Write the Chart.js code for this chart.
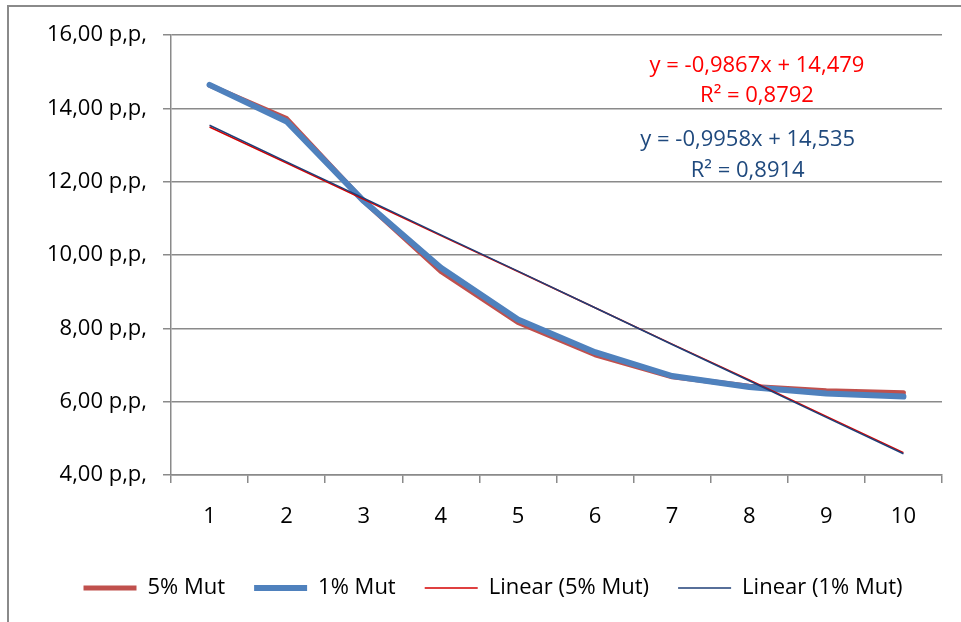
<!DOCTYPE html>
<html lang="en">
  <head>
    <title>Mutation chart</title>
    <meta charset="utf-8" />
    <script src="https://cdn.jsdelivr.net/npm/chart.js@4.4.1/dist/chart.umd.min.js"></script>
    <style>
      html, body { margin: 0; padding: 0; background: #fff; }
      #wrap { width: 961px; height: 622px; position: relative; }
    </style>
  </head>
  <body>
    <div id="wrap"><canvas id="myChart" width="961" height="622"></canvas></div>

    <script>
      // chart data
      var categories = ["1", "2", "3", "4", "5", "6", "7", "8", "9", "10"];
      var mut5 = [14.63, 13.72, 11.47, 9.55, 8.16, 7.28, 6.68, 6.42, 6.30, 6.24];
      var mut1 = [14.64, 13.64, 11.47, 9.65, 8.24, 7.35, 6.70, 6.40, 6.22, 6.14];
      var trend5 = [13.49, 12.51, 11.52, 10.53, 9.55, 8.56, 7.57, 6.59, 5.60, 4.61];
      var trend1 = [13.54, 12.54, 11.55, 10.55, 9.56, 8.56, 7.56, 6.57, 5.57, 4.58];
      var yTicks = [4, 6, 8, 10, 12, 14, 16];
      var yTickLabels = ["4,00 p,p,", "6,00 p,p,", "8,00 p,p,", "10,00 p,p,", "12,00 p,p,", "14,00 p,p,", "16,00 p,p,"];
      var seriesNames = ["5% Mut", "1% Mut", "Linear (5% Mut)", "Linear (1% Mut)"];
      var eqText5 = ["y = -0,9867x + 14,479", "R\u00b2 = 0,8792"];
      var eqText1 = ["y = -0,9958x + 14,535", "R\u00b2 = 0,8914"];
      var eqAnchorIndex = [7.1, 6.98];
      var eqAnchorValue5 = [15.15, 14.33];
      var eqAnchorValue1 = [13.13, 12.31];

      var FONT = "'Open Sans'";
      var FSIZE = 22;
      var gridGray = "#8a8a8a";

      // frame + trendline equations
      var extras = {
        id: "extras",
        afterDraw: function (chart) {
          var ctx = chart.ctx;
          var x = chart.scales.x, y = chart.scales.y;
          ctx.save();
          ctx.strokeStyle = gridGray;
          ctx.lineWidth = 2;
          ctx.beginPath();
          ctx.moveTo(8, 622);
          ctx.lineTo(8, 6);
          ctx.lineTo(961, 6);
          ctx.stroke();

          ctx.font = FSIZE + "px " + FONT;
          ctx.textAlign = "center";
          ctx.textBaseline = "middle";
          ctx.fillStyle = "#FF0000";
          eqText5.forEach(function (t, i) {
            ctx.fillText(t, x.getPixelForValue(eqAnchorIndex[0]), y.getPixelForValue(eqAnchorValue5[i]));
          });
          ctx.fillStyle = "#1F497D";
          eqText1.forEach(function (t, i) {
            ctx.fillText(t, x.getPixelForValue(eqAnchorIndex[1]), y.getPixelForValue(eqAnchorValue1[i]));
          });
          ctx.restore();
        },
      };

      var ctx = document.getElementById("myChart");
      var myChart = new Chart(ctx, {
        type: "line",
        data: {
          labels: categories,
          datasets: [
            {
              label: seriesNames[0],
              data: mut5,
              borderColor: "#C0504D",
              backgroundColor: "#C0504D",
              borderWidth: 5,
              borderCapStyle: "round",
              borderJoinStyle: "round",
              order: 4,
            },
            {
              label: seriesNames[1],
              data: mut1,
              borderColor: "#4F81BD",
              backgroundColor: "#4F81BD",
              borderWidth: 6,
              borderCapStyle: "round",
              borderJoinStyle: "round",
              order: 3,
            },
            {
              label: seriesNames[2],
              data: trend5,
              borderColor: "#D40000",
              backgroundColor: "#D40000",
              borderWidth: 1.5,
              order: 2,
            },
            {
              label: seriesNames[3],
              data: trend1,
              borderColor: "#1F3F77",
              backgroundColor: "#1F3F77",
              borderWidth: 1.5,
              order: 1,
            },
          ],
        },
        options: {
          responsive: false,
          animation: false,
          layout: { padding: { left: 44, right: 19, top: 35, bottom: 13 } },
          elements: { point: { radius: 0, hoverRadius: 0 }, line: { tension: 0 } },
          plugins: {
            tooltip: { enabled: false },
            legend: {
              position: "bottom",
              labels: {
                usePointStyle: true,
                pointStyle: "line",
                pointStyleWidth: 53,
                padding: 29,
                color: "#000",
                font: { family: FONT, size: FSIZE },
                sort: function (a, b) {
                  return a.datasetIndex - b.datasetIndex;
                },
              },
            },
          },
          scales: {
            x: {
              offset: true,
              grid: {
                offset: true,
                drawOnChartArea: false,
                drawTicks: true,
                tickLength: 8,
                color: gridGray,
                lineWidth: 1.5,
              },
              border: { display: true, color: gridGray, width: 1.5 },
              ticks: { color: "#000", padding: 21, font: { family: FONT, size: FSIZE }, maxRotation: 0 },
              afterFit: function (axis) {
                axis.height = 73;
              },
            },
            y: {
              min: 4,
              max: 16,
              afterBuildTicks: function (axis) {
                axis.ticks = yTicks.map(function (v) { return { value: v }; });
              },
              grid: { color: gridGray, lineWidth: 1.5, tickLength: 8 },
              border: { display: true, color: gridGray, width: 1.5 },
              ticks: {
                color: "#000",
                padding: 16,
                font: { family: FONT, size: FSIZE },
                callback: function (value) {
                  return yTickLabels[yTicks.indexOf(value)];
                },
              },
              afterFit: function (axis) {
                axis.width = 127;
              },
            },
          },
        },
        plugins: [extras],
      });
    </script>
  </body>
</html>
